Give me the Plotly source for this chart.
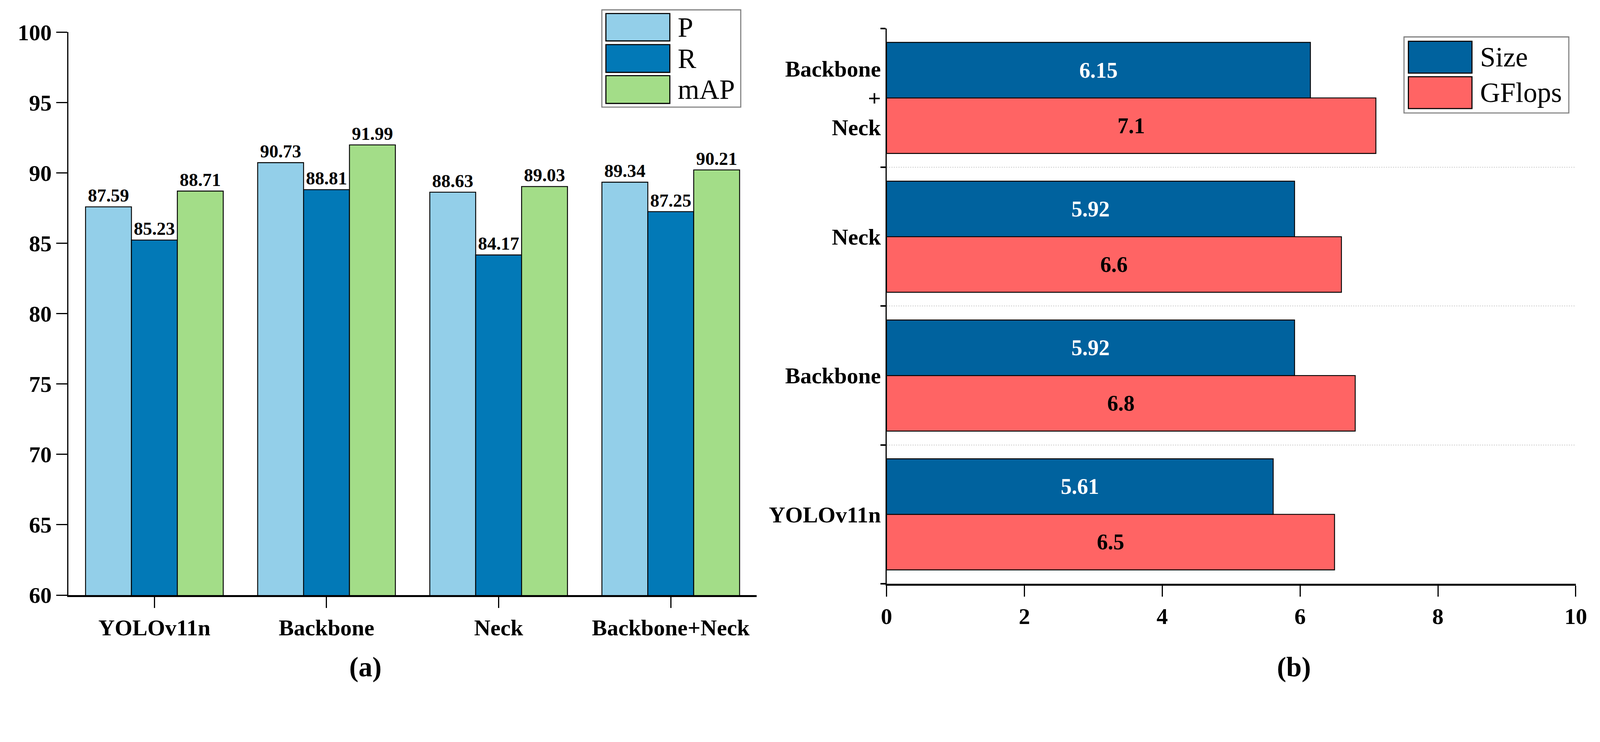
import plotly.graph_objects as go

# Reference image size; the page viewport turned out ~7% smaller in CSS px,
# so everything is laid out in reference pixels and scaled by K.
REF_W, REF_H = 4373, 1899
K = 4091 / REF_W
BODY_MARGIN = 8
W, H = 4074, 1759
FONT = "Liberation Serif"

# (a) detection metrics
MODELS = ["YOLOv11n", "Backbone", "Neck", "Backbone+Neck"]
P_VALS = [87.59, 90.73, 88.63, 89.34]
R_VALS = [85.23, 88.81, 84.17, 87.25]
MAP_VALS = [88.71, 91.99, 89.03, 90.21]

# (b) model size / compute
MODEL_LABELS_B = ["YOLOv11n", "Backbone", "Neck", "Backbone<br>+<br>Neck"]
SIZE_VALS = [5.61, 5.92, 5.92, 6.15]
GFLOPS_VALS = [6.5, 6.8, 6.6, 7.1]

Y_TICKS_A = [60, 65, 70, 75, 80, 85, 90, 95, 100]
X_TICKS_B = [0, 2, 4, 6, 8, 10]

COLORS_A = {"P": "#93CFE9", "R": "#0279B7", "mAP": "#A3DD88"}
COLORS_B = {"Size": "#00629E", "GFlops": "#FF6464"}


def px(x):
    return (x * K - BODY_MARGIN) / W


def py(y):
    return 1 - (y * K - BODY_MARGIN) / H


def fs(size):
    return round(size * K, 1)


def lw(width):
    return round(width * K, 2)


def tick_font(size=62):
    return dict(family=FONT, size=fs(size), color="black", weight="bold")


fig = go.Figure()

for name, vals in (("P", P_VALS), ("R", R_VALS), ("mAP", MAP_VALS)):
    fig.add_trace(go.Bar(
        name=name, x=MODELS, y=vals,
        marker=dict(color=COLORS_A[name], line=dict(color="black", width=lw(2.5))),
        text=[f"{v:.2f}" for v in vals], textposition="outside",
        textfont=tick_font(50), cliponaxis=False,
        xaxis="x", yaxis="y", showlegend=False,
    ))

# GFlops first so that Size sits on top within each group
for name, vals, txt in (("GFlops", GFLOPS_VALS, "black"), ("Size", SIZE_VALS, "white")):
    fig.add_trace(go.Bar(
        name=name, y=MODEL_LABELS_B, x=vals, orientation="h",
        marker=dict(color=COLORS_B[name], line=dict(color="black", width=lw(2.5))),
        text=[f"{v:g}" for v in vals], textposition="inside",
        insidetextanchor="middle", textangle=0,
        textfont=dict(family=FONT, size=fs(60), color=txt, weight="bold"),
        xaxis="x2", yaxis="y2", showlegend=False,
    ))

shapes = []
annotations = []


def add_legend(box, sw_x, rows, text_x):
    x0, y0, x1, y1 = box
    shapes.append(dict(type="rect", xref="paper", yref="paper",
                       x0=px(x0), x1=px(x1), y0=py(y0), y1=py(y1),
                       line=dict(color="#808080", width=lw(3)), fillcolor="white"))
    for label, color, top, bot in rows:
        shapes.append(dict(type="rect", xref="paper", yref="paper",
                           x0=px(sw_x[0]), x1=px(sw_x[1]), y0=py(top), y1=py(bot),
                           line=dict(color="black", width=lw(3)), fillcolor=color))
        annotations.append(dict(text=label, xref="paper", yref="paper",
                                x=px(text_x), y=py((top + bot) / 2),
                                xanchor="left", yanchor="middle", showarrow=False,
                                font=dict(family=FONT, size=fs(76), color="black")))


add_legend((1647, 27, 2027, 293), (1658, 1833),
           [("P", COLORS_A["P"], 37, 112), ("R", COLORS_A["R"], 122, 198),
            ("mAP", COLORS_A["mAP"], 207, 283)], 1852)
add_legend((3842, 101, 4293, 309), (3854, 4028),
           [("Size", COLORS_B["Size"], 113, 200), ("GFlops", COLORS_B["GFlops"], 210, 297)], 4048)

for label, x in (("(a)", 1000), ("(b)", 3541)):
    annotations.append(dict(text=label, xref="paper", yref="paper", x=px(x), y=py(1825),
                            xanchor="center", yanchor="middle", showarrow=False,
                            font=dict(family=FONT, size=fs(76), color="black", weight="bold")))

fig.update_layout(
    template="none",
    width=W, height=H,
    margin=dict(l=0, r=0, t=0, b=0),
    paper_bgcolor="white", plot_bgcolor="white",
    barmode="group", bargap=0.2, bargroupgap=0,
    showlegend=False,
    font=dict(family=FONT, color="black"),
    xaxis=dict(
        domain=[px(187), px(2071)], anchor="y",
        type="category", categoryorder="array", categoryarray=MODELS,
        showline=True, linecolor="black", linewidth=lw(5),
        ticks="outside", ticklen=lw(30), tickwidth=lw(3), tickcolor="black",
        tickfont=tick_font(), showgrid=False, zeroline=False, automargin=False,
    ),
    yaxis=dict(
        domain=[py(1628), py(88)], anchor="x",
        range=[60, 100], tickvals=Y_TICKS_A,
        showline=True, linecolor="black", linewidth=lw(3),
        ticks="outside", ticklen=lw(30), tickwidth=lw(3), tickcolor="black",
        tickfont=tick_font(), showgrid=False, zeroline=False, automargin=False,
    ),
    xaxis2=dict(
        domain=[px(2426), px(4312)], anchor="y2",
        range=[0, 10], tickvals=X_TICKS_B,
        showline=True, linecolor="black", linewidth=lw(5),
        ticks="outside", ticklen=lw(30), tickwidth=lw(3), tickcolor="black",
        tickfont=tick_font(), showgrid=False, zeroline=False, automargin=False,
    ),
    yaxis2=dict(
        domain=[py(1597), py(78)], anchor="x2",
        type="category", categoryorder="array", categoryarray=MODEL_LABELS_B,
        tickson="boundaries",
        showline=True, linecolor="black", linewidth=lw(3),
        ticks="outside", ticklen=lw(14), tickwidth=lw(4), tickcolor="black",
        tickfont=tick_font(), showgrid=True, gridcolor="#cfcfcf", gridwidth=lw(2),
        griddash="dot", zeroline=False, automargin=False,
    ),
    shapes=shapes,
    annotations=annotations,
)

fig.write_html("out.html")
